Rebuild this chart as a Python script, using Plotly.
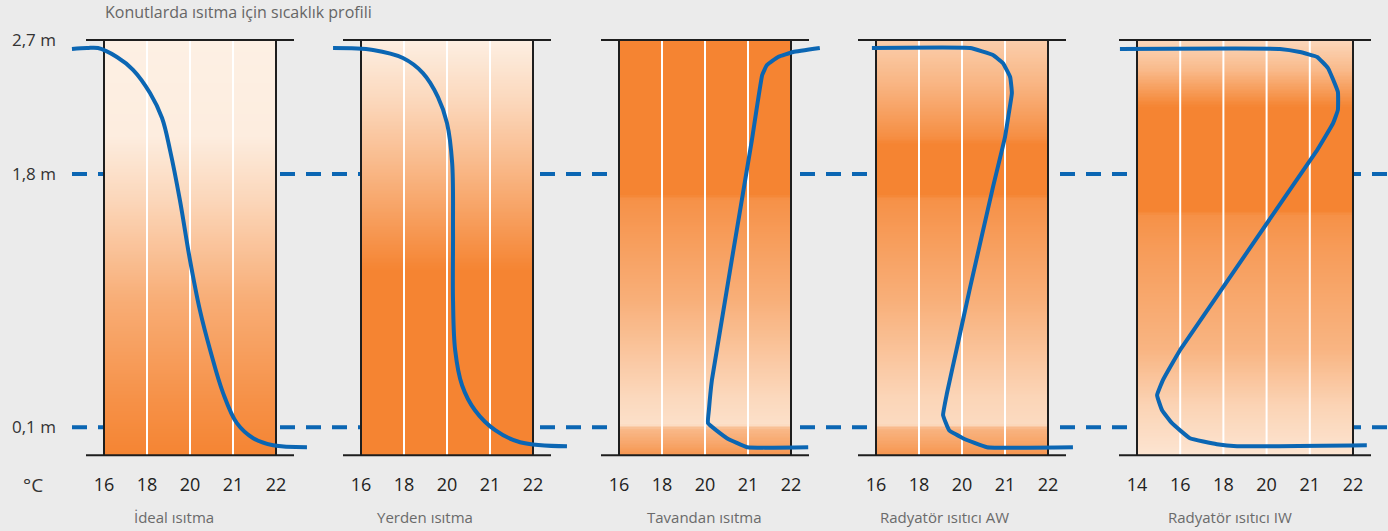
import numpy as np
import plotly.graph_objects as go

# ---------------- data ----------------
title = "Konutlarda ısıtma için sıcaklık profili"
height_ticks = [0.1, 1.8, 2.7]
height_labels = ["0,1 m", "1,8 m", "2,7 m"]
unit_label = "°C"

panel_names = ["İdeal ısıtma", "Yerden ısıtma", "Tavandan ısıtma",
               "Radyatör ısıtıcı AW", "Radyatör ısıtıcı IW"]
temp_ticks_std = [16, 18, 20, 21, 22]
temp_ticks_iw = [14, 16, 18, 20, 21, 22]

# temperature (°C) / height (m) profiles
ideal_t = [14.51, 15.21, 15.72, 16.60, 17.35, 18.14, 18.70, 19.07, 19.53, 20.00,
           20.23, 20.47, 20.77, 21.09, 21.47, 21.93, 22.72]
ideal_h = [2.640, 2.646, 2.646, 2.586, 2.500, 2.344, 2.176, 1.961, 1.625, 1.222,
           0.886, 0.617, 0.329, 0.127, 0.026, -0.021, -0.034]

floor_t = [14.70, 16.56, 17.95, 18.88, 19.58, 20.00, 20.12, 20.14, 20.14, 20.19,
           20.35, 20.65, 21.12, 21.70, 22.79]
floor_h = [2.646, 2.633, 2.579, 2.478, 2.317, 2.142, 1.874, 1.424, 0.953, 0.617,
           0.382, 0.214, 0.080, -0.001, -0.028]

ceiling_t = [22.67, 22.05, 21.70, 21.44, 21.33, 21.09, 20.16, 20.09, 20.07, 20.51, 20.98, 22.40]
ceiling_h = [2.646, 2.619, 2.586, 2.532, 2.465, 2.028, 0.416, 0.214, 0.127, 0.026, -0.034, -0.034]

aw_t = [15.81, 20.19, 20.72, 20.95, 21.12, 21.16, 21.09, 21.00, 20.72, 20.19,
        19.77, 19.30, 19.12, 19.40, 20.02, 20.58, 22.58]
aw_h = [2.646, 2.646, 2.599, 2.545, 2.451, 2.344, 2.210, 2.048, 1.712, 1.041,
        0.637, 0.328, 0.181, 0.080, 0.026, -0.034, -0.034]

iw_t = [13.21, 20.31, 20.77, 21.17, 21.42, 21.65, 21.65, 21.54, 21.17, 15.99,
        15.20, 14.93, 15.16, 15.62, 16.45, 17.70, 18.63, 22.32]
iw_h = [2.640, 2.640, 2.619, 2.586, 2.512, 2.351, 2.230, 2.142, 1.961, 0.617,
        0.416, 0.315, 0.214, 0.127, 0.026, -0.014, -0.028, -0.021]

curves_t = [ideal_t, floor_t, ceiling_t, aw_t, iw_t]
curves_h = [ideal_h, floor_h, ceiling_h, aw_h, iw_h]
panel_ticks = [temp_ticks_std] * 4 + [temp_ticks_iw]

# ---------------- style / layout ----------------
W, H = 1388, 531
BG = "#ebebeb"
BLUE = "#0b66b3"
LIGHT = "#fdf0e4"
ORANGE = "#f58432"
TOP_H, BOT_H = 2.7, -0.088
Y_RANGE = [-0.1, 2.7134]

# pixel geometry of each panel: (left border px, px per tick step, domain px)
panel_geom = [
    (104, 43.0, (66, 314)),
    (361, 43.0, (326, 574)),
    (619, 43.0, (596, 828)),
    (876, 43.0, (852, 1080)),
    (1137, 43.2, (1110, 1380)),
]
line_ext_px = 18
smoothing = [1.0, 1.0, 0.3, 0.3, 0.3]

# gradient stops (height, intensity 0=light 1=orange)
grad_stops = [
    [(-0.1, 1.0), (0.28, 0.88), (0.95, 0.62), (1.62, 0.24), (2.05, 0.03), (2.72, 0.0)],
    [(-0.1, 1.0), (1.15, 1.0), (1.87, 0.5), (2.3, 0.22), (2.72, 0.0)],
    [(-0.1, 0.85), (0.09, 0.5), (0.115, 0.15), (0.3, 0.22), (0.95, 0.6), (1.63, 0.88),
     (1.66, 1.0), (2.72, 1.0)],
    [(-0.1, 0.85), (0.09, 0.55), (0.115, 0.2), (0.3, 0.25), (0.95, 0.6), (1.63, 0.88),
     (1.66, 1.0), (2.0, 1.0), (2.05, 0.9), (2.4, 0.55), (2.72, 0.3)],
    [(-0.1, 0.1), (0.25, 0.27), (0.62, 0.55), (1.29, 0.78), (1.52, 0.88), (1.55, 1.0),
     (2.25, 1.0), (2.3, 0.9), (2.5, 0.5), (2.72, 0.2)],
]


def to_pos(t, ticks):
    t = np.asarray(t, dtype=float)
    ticks = np.asarray(ticks, dtype=float)
    n = len(ticks)
    pos = np.interp(t, ticks, np.arange(n))
    lo = t < ticks[0]
    hi = t > ticks[-1]
    pos[lo] = (t[lo] - ticks[0]) / (ticks[1] - ticks[0])
    pos[hi] = (n - 1) + (t[hi] - ticks[-1]) / (ticks[-1] - ticks[-2])
    return pos


fig = go.Figure()
layout_axes = {}
FONT = "Open Sans"

for i in range(5):
    ax = "" if i == 0 else str(i + 1)
    xref = "x" + ax
    left_px, step, (d0, d1) = panel_geom[i]
    ticks = panel_ticks[i]
    nstep = len(ticks) - 1
    rng = [(d0 - left_px) / step, (d1 - left_px) / step]

    # gradient fill
    edges = np.linspace(BOT_H, TOP_H, 300)
    centers = 0.5 * (edges[:-1] + edges[1:])
    sh = [s[0] for s in grad_stops[i]]
    sv = [s[1] for s in grad_stops[i]]
    z = np.interp(centers, sh, sv).reshape(-1, 1)
    fig.add_trace(go.Heatmap(
        x=[0, nstep], y=edges, z=z, zmin=0, zmax=1,
        colorscale=[[0, LIGHT], [1, ORANGE]], showscale=False,
        hoverinfo="skip", xaxis=xref, yaxis="y"))

    # white inner lines
    wx, wy = [], []
    for k in range(1, nstep):
        wx += [k, k, None]
        wy += [BOT_H, TOP_H, None]
    fig.add_trace(go.Scatter(x=wx, y=wy, mode="lines",
                             line=dict(color="white", width=2),
                             hoverinfo="skip", showlegend=False,
                             xaxis=xref, yaxis="y"))
    # black frame
    ext = line_ext_px / step
    fx = [0, 0, None, nstep, nstep, None, -ext, nstep + ext, None, -ext, nstep + ext]
    fy = [BOT_H, TOP_H, None, BOT_H, TOP_H, None, TOP_H, TOP_H, None, BOT_H, BOT_H]
    fig.add_trace(go.Scatter(x=fx, y=fy, mode="lines",
                             line=dict(color="#1e1e1e", width=2),
                             hoverinfo="skip", showlegend=False,
                             xaxis=xref, yaxis="y"))
    # profile curve
    fig.add_trace(go.Scatter(x=to_pos(curves_t[i], ticks), y=curves_h[i],
                             mode="lines",
                             line=dict(color=BLUE, width=4,
                                       shape="spline", smoothing=smoothing[i]),
                             hoverinfo="skip", showlegend=False,
                             xaxis=xref, yaxis="y"))

    layout_axes["xaxis" + ax] = dict(
        domain=[d0 / W, d1 / W], range=rng, anchor="y",
        showgrid=False, zeroline=False, showline=False, ticks="",
        tickvals=list(range(nstep + 1)), ticktext=[str(t) for t in ticks],
        tickfont=dict(family=FONT, size=18, color="#222222"),
        ticklabelstandoff=15, fixedrange=True)

fig.update_layout(**layout_axes)
fig.update_layout(
    width=W, height=H,
    margin=dict(l=0, r=0, t=38, b=74),
    paper_bgcolor=BG, plot_bgcolor="rgba(0,0,0,0)",
    showlegend=False,
    yaxis=dict(range=Y_RANGE, domain=[0, 1], anchor="free", position=60 / W,
               showgrid=False, zeroline=False, showline=False, ticks="",
               tickvals=height_ticks, ticktext=height_labels,
               tickfont=dict(family=FONT, size=17, color="#333333"),
               ticklabelstandoff=4, fixedrange=True),
)

# dashed reference lines (behind panels)
for hv in [1.8, 0.1]:
    fig.add_shape(type="line", xref="paper", yref="y", x0=72 / W, x1=1.0, y0=hv, y1=hv,
                  line=dict(color=BLUE, width=4, dash="15px,11px"), layer="below")

# title, unit, captions
fig.add_annotation(text=title, xref="paper", yref="paper", x=103 / W, y=1,
                   yshift=26, xanchor="left", yanchor="middle", showarrow=False,
                   font=dict(family=FONT, size=16, color="#666666"))
fig.add_annotation(text=unit_label, xref="paper", yref="paper", x=33 / W, y=0,
                   yshift=-28, xanchor="center", yanchor="middle", showarrow=False,
                   font=dict(family=FONT, size=19, color="#333333"))
caption_px = [174, 425, 704, 944, 1230]
for name, cx in zip(panel_names, caption_px):
    fig.add_annotation(text=name, xref="paper", yref="paper", x=cx / W, y=0,
                       yshift=-60, xanchor="center", yanchor="middle", showarrow=False,
                       font=dict(family=FONT, size=15, color="#6a6a6a"))

fig.write_html(
    "out.html",
    config={"displayModeBar": False},
    post_script="document.body.style.margin='0';document.body.style.padding='0';"
                "document.body.style.background='#ebebeb';"
                "document.body.style.overflow='hidden';",
)
